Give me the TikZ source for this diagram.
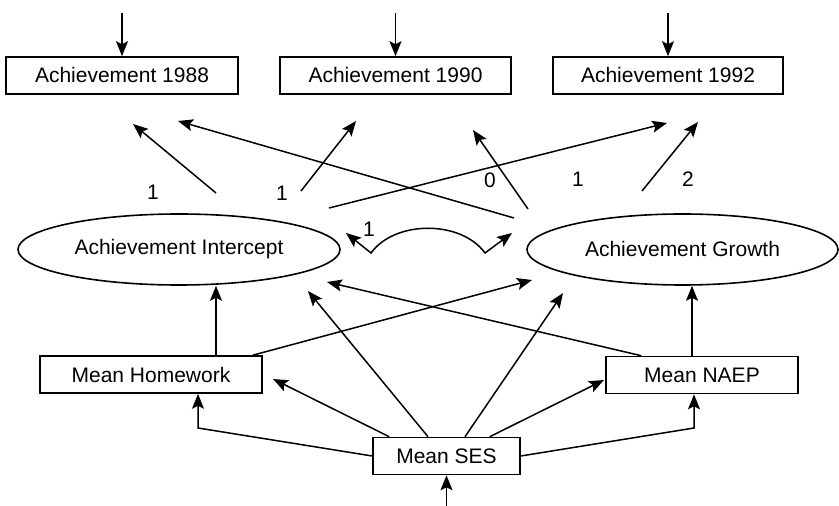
\documentclass[tikz,border=0pt]{standalone}
\usepackage{fontspec}
\setmainfont{Liberation Sans}
\usetikzlibrary{arrows.meta,shapes.geometric}
\tikzstyle{box}=[draw, line width=0.8pt, minimum height=18.5pt, inner sep=0pt]
\tikzstyle{latent}=[ellipse, draw, line width=0.8pt, minimum height=35.5pt, inner sep=0pt]
\tikzstyle{edge}=[line width=0.75pt]
\tikzstyle{dedge}=[edge,-{Stealth[length=7.5pt,width=6pt,inset=1.5pt]}]
\tikzstyle{ddedge}=[edge,{Stealth[length=7.5pt,width=6pt,inset=1.5pt]}-{Stealth[length=7.5pt,width=6pt,inset=1.5pt]}]
\tikzstyle{labelsty}=[inner sep=0pt]

\begin{document}
\begin{tikzpicture}[x=0.5pt,y=-0.5pt,font=\fontsize{10.5pt}{12pt}\selectfont]
			\useasboundingbox (0,0) rectangle (839,506);
			
			\node[box,minimum width=116pt] (a88) at (122,75.5) {Achievement 1988};
			\node[box,minimum width=115.5pt] (a90) at (395.5,75.5) {Achievement 1990};
			\node[box,minimum width=115pt] (a92) at (668,75.5) {Achievement 1992};
			\node[latent,minimum width=161pt] (ic) at (179,249.5) {Achievement Intercept};
			\node[latent,minimum width=155.5pt] (gr) at (682.5,249.5) {Achievement Growth};
			\node[box,minimum width=111pt] (hw) at (151,374.5) {Mean Homework};
			\node[box,minimum width=96pt] (np) at (702,375) {Mean NAEP};
			\node[box,minimum width=73.5pt] (ses) at (446.5,456) {Mean SES};
			
			% free ends
			\coordinate (in88) at (122,13);
			\coordinate (in90) at (395.5,13);
			\coordinate (in92) at (668,13);
			\coordinate (inses) at (446.5,506);
			\coordinate (s1) at (216,193);  \coordinate (h1) at (133,124);
			\coordinate (s2) at (514,218);  \coordinate (h2) at (178,121);
			\coordinate (s3) at (301,191);  \coordinate (h3) at (356,121);
			\coordinate (s4) at (528,209);  \coordinate (h4) at (473,130);
			\coordinate (s5) at (329,208);  \coordinate (h5) at (667,123);
			\coordinate (s6) at (642,191);  \coordinate (h6) at (698,122);
			\coordinate (h9) at (532,280);
			\coordinate (h10) at (327,282);
			\coordinate (h11) at (308,291);
			\coordinate (h12) at (563,293);
			\coordinate (h13) at (273,379);
			\coordinate (h14) at (604,380);
			\coordinate (bl) at (198,428);
			\coordinate (br) at (694,428);
			\coordinate (cl) at (346,233);  \coordinate (cl2) at (371,253);
			\coordinate (cr) at (512,233);  \coordinate (cr2) at (485,253);
			
			\draw[dedge] (in88) -- (a88);
			\draw[dedge] (in90) -- (a90);
			\draw[dedge] (in92) -- (a92);
			\draw[dedge] (inses) -- (ses);
			
			\draw[dedge] (s1) -- (h1);
			\draw[dedge] (s2) -- (h2);
			\draw[dedge] (s3) -- (h3);
			\draw[dedge] (s4) -- (h4);
			\draw[dedge] (s5) -- (h5);
			\draw[dedge] (s6) -- (h6);
			\node[labelsty] (l1) at (153,192) {1};
			\node[labelsty] (l2) at (282,193) {1};
			\node[labelsty] (l3) at (490,180) {0};
			\node[labelsty] (l4) at (578,179) {1};
			\node[labelsty] (l5) at (688,179) {2};
			
			\draw[ddedge] (cl) -- (cl2) .. controls (395,220) and (461,220) .. (cr2) -- (cr);
			\node[labelsty] (l6) at (369,229) {1};
			
			\draw[dedge] ([xshift=32.5pt]hw.north) -- ([xshift=32.5pt]hw.north |- ic.south);
			\draw[dedge] ([xshift=-5pt]np.north) -- ([xshift=-5pt]np.north |- gr.south);
			\draw[dedge] ([xshift=-5pt]hw.north east) -- (h9);
			\draw[dedge] ([xshift=18pt]np.north west) -- (h10);
			\draw[dedge] ([xshift=-9.25pt]ses.north) -- (h11);
			\draw[dedge] ([xshift=9.25pt]ses.north) -- (h12);
			\draw[dedge] ([xshift=8.5pt]ses.north west) -- (h13);
			\draw[dedge] ([xshift=-15.5pt]ses.north east) -- (h14);
			\draw[dedge] (ses.west) -- (bl) -- (bl |- hw.south);
			\draw[dedge] (ses.east) -- (br) -- (br |- np.south);
		\end{tikzpicture}
\end{document}
